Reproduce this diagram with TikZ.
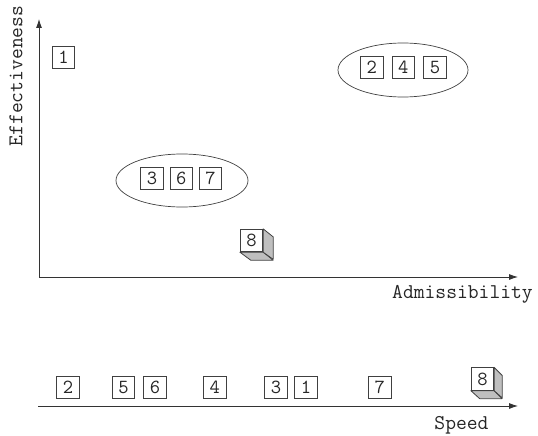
\documentclass[tikz,border=0pt]{standalone}
\usepackage{fontspec}
\usetikzlibrary{shapes.geometric,arrows.meta}
\begin{document}
\begin{tikzpicture}[x=1pt,y=-1pt,
  lbl/.style={font=\ttfamily\fontsize{21}{21}\selectfont, text=black!85, inner sep=0pt},
  item/.style={draw=black!75, line width=0.8pt, minimum size=22.5pt, inner sep=0pt, fill=white,
    font=\ttfamily\fontsize{20}{20}\selectfont, text=black!85},
  grp/.style={draw=black!75, ellipse, line width=0.7pt, inner sep=0pt},
  axis/.style={draw=black!80, line width=0.8pt, -{Latex[length=9pt,width=6pt]}},
  face/.style={draw=black!75, line width=0.8pt, fill=black!25, line join=round}]
\useasboundingbox (0,0) rectangle (538,436);

% top chart axes
\coordinate (o) at (39,277);
\coordinate (ytip) at (39,19);
\coordinate (xtip) at (518,277);
\draw[axis] (o) -- (ytip);
\draw[axis] (o) -- (xtip);
\node[lbl, rotate=90] (ylab) at (16,76) {Effectiveness};
\node[lbl] (xlab) at (462.5,294) {Admissibility};

% groups
\node[grp, minimum width=130pt, minimum height=54pt] (g245) at (403,70) {};
\node[grp, minimum width=132pt, minimum height=53pt] (g367) at (182,180.5) {};

% top items
\node[item] (t1) at (63.5,57.5) {1};
\node[item] (t2) at (371.7,67.5) {2};
\node[item] (t4) at (403.3,67.5) {4};
\node[item] (t5) at (435,67.5) {5};
\node[item] (t3) at (152,178.5) {3};
\node[item] (t6) at (181.3,178.5) {6};
\node[item] (t7) at (210.5,178.5) {7};

% top cube 8
\node[item, draw=none, fill=none] (t8) at (251.5,240.5) {};
\draw[face] (t8.south west) -- (t8.south east) -- ++(10,8) -- ++(-22.5,0) -- cycle;
\draw[face] (t8.north east) -- ++(10,8) -- ++(0,22.5) -- (t8.south east) -- cycle;
\node[item] at (t8) {8};

% bottom axis
\coordinate (bo) at (38,406);
\coordinate (btip) at (518,406);
\draw[axis] (bo) -- (btip);
\node[lbl] (slab) at (461.5,425) {Speed};

% bottom items
\node[item] (b2) at (68,387.5) {2};
\node[item] (b5) at (123.5,387.5) {5};
\node[item] (b6) at (155,387.5) {6};
\node[item] (b4) at (214.7,387.5) {4};
\node[item] (b3) at (276,387.5) {3};
\node[item] (b1) at (306,387.5) {1};
\node[item] (b7) at (379.7,387.5) {7};

% bottom cube 8
\node[item, draw=none, fill=none] (b8) at (482.5,379) {};
\draw[face] (b8.south west) -- (b8.south east) -- ++(8,8) -- ++(-22.5,0) -- cycle;
\draw[face] (b8.north east) -- ++(8,8) -- ++(0,22.5) -- (b8.south east) -- cycle;
\node[item] at (b8) {8};
\end{tikzpicture}
\end{document}
